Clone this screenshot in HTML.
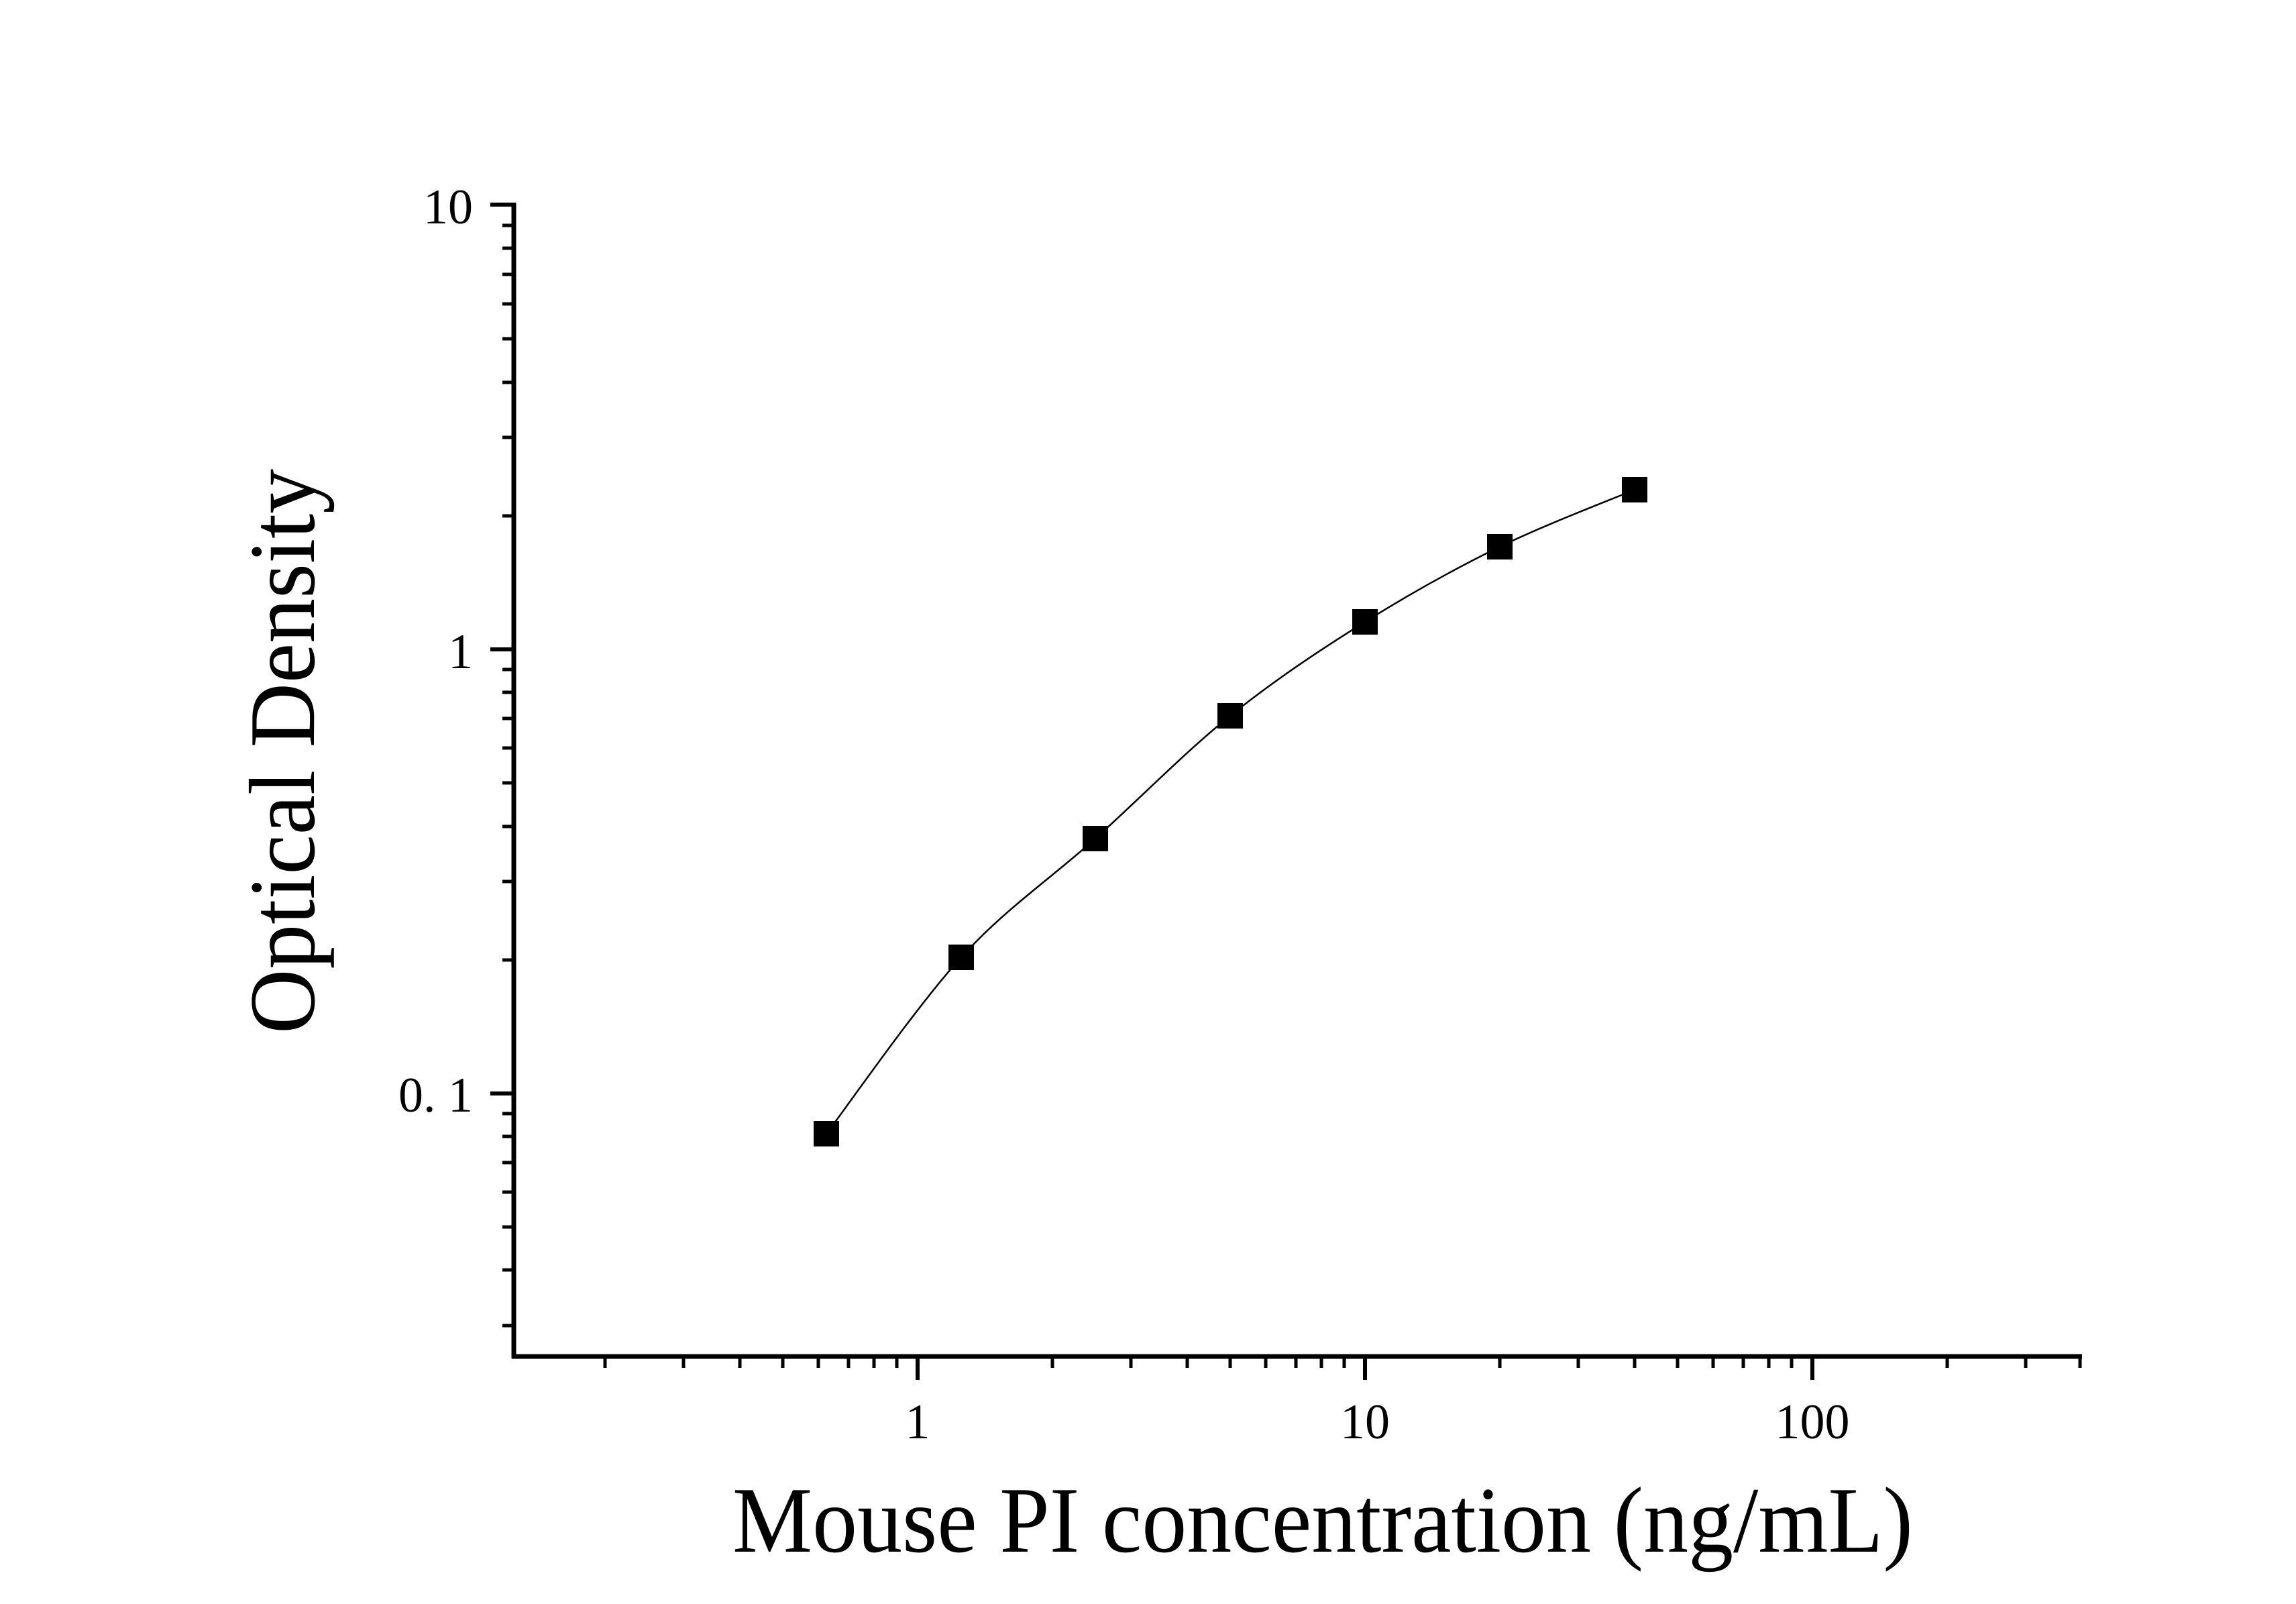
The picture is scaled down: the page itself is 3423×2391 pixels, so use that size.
<!DOCTYPE html>
<html><head><meta charset="utf-8"><style>html,body{margin:0;padding:0;background:#fff}svg{display:block}</style></head><body>
<svg width="3423" height="2391" viewBox="0 0 3423 2391" xmlns="http://www.w3.org/2000/svg">
<rect width="3423" height="2391" fill="#fff"/>
<g stroke="#000" stroke-width="7" fill="none">
<line x1="766" y1="302" x2="766" y2="2025"/>
<line x1="763" y1="2022" x2="3104" y2="2022"/>
</g>
<g stroke="#000" stroke-width="6">
<line x1="731" y1="305" x2="766" y2="305"/>
<line x1="731" y1="968" x2="766" y2="968"/>
<line x1="731" y1="1630" x2="766" y2="1630"/>
<line x1="1368" y1="2022" x2="1368" y2="2057"/>
<line x1="2035" y1="2022" x2="2035" y2="2057"/>
<line x1="2702" y1="2022" x2="2702" y2="2057"/>
</g>
<g stroke="#000" stroke-width="5">
<line x1="749" y1="336" x2="766" y2="336"/><line x1="749" y1="370" x2="766" y2="370"/><line x1="749" y1="409" x2="766" y2="409"/><line x1="749" y1="453" x2="766" y2="453"/><line x1="749" y1="505" x2="766" y2="505"/><line x1="749" y1="570" x2="766" y2="570"/><line x1="749" y1="652" x2="766" y2="652"/><line x1="749" y1="769" x2="766" y2="769"/>
<line x1="749" y1="998" x2="766" y2="998"/><line x1="749" y1="1032" x2="766" y2="1032"/><line x1="749" y1="1071" x2="766" y2="1071"/><line x1="749" y1="1115" x2="766" y2="1115"/><line x1="749" y1="1167" x2="766" y2="1167"/><line x1="749" y1="1232" x2="766" y2="1232"/><line x1="749" y1="1314" x2="766" y2="1314"/><line x1="749" y1="1431" x2="766" y2="1431"/>
<line x1="749" y1="1660" x2="766" y2="1660"/><line x1="749" y1="1694" x2="766" y2="1694"/><line x1="749" y1="1733" x2="766" y2="1733"/><line x1="749" y1="1777" x2="766" y2="1777"/><line x1="749" y1="1829" x2="766" y2="1829"/><line x1="749" y1="1893" x2="766" y2="1893"/><line x1="749" y1="1976" x2="766" y2="1976"/>
<line x1="902" y1="2022" x2="902" y2="2039"/><line x1="1019" y1="2022" x2="1019" y2="2039"/><line x1="1103" y1="2022" x2="1103" y2="2039"/><line x1="1167" y1="2022" x2="1167" y2="2039"/><line x1="1220" y1="2022" x2="1220" y2="2039"/><line x1="1265" y1="2022" x2="1265" y2="2039"/><line x1="1303" y1="2022" x2="1303" y2="2039"/><line x1="1337" y1="2022" x2="1337" y2="2039"/>
<line x1="1569" y1="2022" x2="1569" y2="2039"/><line x1="1686" y1="2022" x2="1686" y2="2039"/><line x1="1770" y1="2022" x2="1770" y2="2039"/><line x1="1834" y1="2022" x2="1834" y2="2039"/><line x1="1887" y1="2022" x2="1887" y2="2039"/><line x1="1932" y1="2022" x2="1932" y2="2039"/><line x1="1970" y1="2022" x2="1970" y2="2039"/><line x1="2004" y1="2022" x2="2004" y2="2039"/>
<line x1="2236" y1="2022" x2="2236" y2="2039"/><line x1="2353" y1="2022" x2="2353" y2="2039"/><line x1="2437" y1="2022" x2="2437" y2="2039"/><line x1="2501" y1="2022" x2="2501" y2="2039"/><line x1="2554" y1="2022" x2="2554" y2="2039"/><line x1="2599" y1="2022" x2="2599" y2="2039"/><line x1="2637" y1="2022" x2="2637" y2="2039"/><line x1="2671" y1="2022" x2="2671" y2="2039"/>
<line x1="2903" y1="2022" x2="2903" y2="2039"/><line x1="3020" y1="2022" x2="3020" y2="2039"/><line x1="3101" y1="2022" x2="3101" y2="2039"/>
</g>
<path d="M1232,1690 C1265.5,1646.2 1366.2,1500.3 1433,1427 C1499.8,1353.7 1566.2,1310 1633,1250 C1699.8,1190 1767,1120.8 1834,1067 C1901,1013.2 1968,969 2035,927 C2102,885 2169,847.8 2236,815 C2303,782.2 2403.5,744.2 2437,730" fill="none" stroke="#000" stroke-width="2.5"/>
<g fill="#000">
<rect x="1213" y="1671" width="38" height="38"/>
<rect x="1414" y="1408" width="38" height="38"/>
<rect x="1614" y="1231" width="38" height="38"/>
<rect x="1815" y="1048" width="38" height="38"/>
<rect x="2016" y="908" width="38" height="38"/>
<rect x="2217" y="796" width="38" height="38"/>
<rect x="2418" y="711" width="38" height="38"/>
</g>
<g font-family="Liberation Serif, serif" fill="#000" font-size="74">
<text x="705" y="333" text-anchor="end">10</text>
<text x="705" y="996" text-anchor="end">1</text>
<text x="705" y="1657" text-anchor="end">0. 1</text>
<text x="1368" y="2144" text-anchor="middle">1</text>
<text x="2035" y="2144" text-anchor="middle">10</text>
<text x="2702" y="2144" text-anchor="middle">100</text>
</g>
<text x="1972" y="2313" text-anchor="middle" font-family="Liberation Serif, serif" font-size="140" textLength="1760" lengthAdjust="spacingAndGlyphs">Mouse PI concentration (ng/mL)</text>
<text transform="translate(468,1120) rotate(-90)" x="0" y="0" text-anchor="middle" font-family="Liberation Serif, serif" font-size="140" textLength="842" lengthAdjust="spacingAndGlyphs">Optical Density</text>
</svg>
</body></html>
